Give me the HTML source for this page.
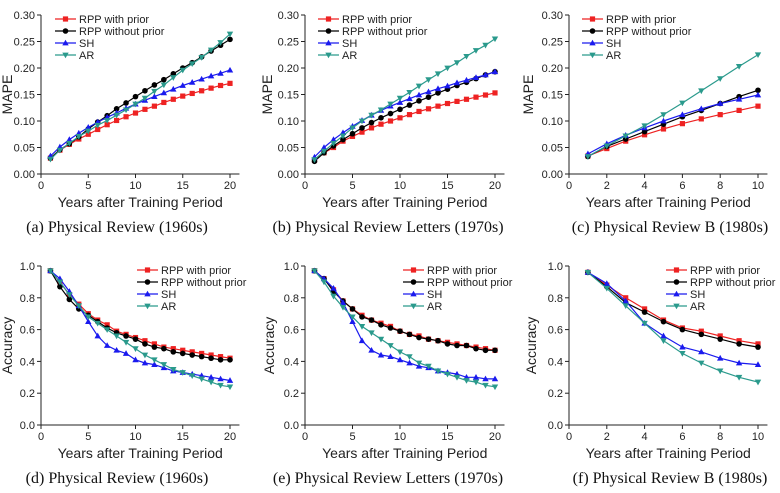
<!DOCTYPE html>
<html><head><meta charset="utf-8">
<style>
html,body{margin:0;padding:0;background:#fff;}
svg{display:block;font-family:"Liberation Sans",Arial,sans-serif;}
.tick{font-size:11px;fill:#222;}
.atitle{font-size:14px;fill:#222;}
.leg{font-size:11px;fill:#222;}
.cap{font-family:"Liberation Serif",serif;font-size:16px;fill:#111;}
</style></head>
<body>
<svg id="chart" width="780" height="493" viewBox="0 0 780 493"></svg>
<script>
const years20 = [1,2,3,4,5,6,7,8,9,10,11,12,13,14,15,16,17,18,19,20];
const years10 = [1,2,3,4,5,6,7,8,9,10];
const seriesNames = ["RPP with prior","RPP without prior","SH","AR"];
const xTicks20 = [0,5,10,15,20];
const xTicks10 = [0,2,4,6,8,10];
const mapeTicks = [0,0.05,0.10,0.15,0.20,0.25,0.30];
const accTicks = [0,0.2,0.4,0.6,0.8,1.0];

const aRed = [0.03,0.045,0.056,0.066,0.075,0.084,0.093,0.101,0.108,0.115,0.122,0.128,0.135,0.141,0.147,0.152,0.157,0.162,0.167,0.171];
const aBlack = [0.03,0.046,0.057,0.07,0.085,0.098,0.11,0.123,0.134,0.146,0.157,0.168,0.178,0.189,0.2,0.21,0.221,0.232,0.243,0.254];
const aSH = [0.034,0.051,0.065,0.077,0.088,0.098,0.107,0.115,0.124,0.132,0.139,0.146,0.153,0.16,0.167,0.173,0.179,0.185,0.19,0.196];
const aAR = [0.028,0.045,0.058,0.071,0.081,0.092,0.101,0.111,0.121,0.132,0.143,0.156,0.168,0.182,0.196,0.208,0.22,0.234,0.248,0.264];

const bRed = [0.026,0.04,0.05,0.062,0.071,0.079,0.087,0.094,0.1,0.106,0.112,0.118,0.123,0.128,0.133,0.137,0.141,0.145,0.149,0.153];
const bBlack = [0.024,0.04,0.053,0.065,0.076,0.087,0.097,0.106,0.114,0.122,0.13,0.138,0.145,0.153,0.16,0.167,0.173,0.18,0.187,0.193];
const bSH = [0.032,0.05,0.065,0.078,0.09,0.101,0.111,0.12,0.128,0.135,0.142,0.149,0.155,0.161,0.166,0.172,0.177,0.182,0.187,0.193];
const bAR = [0.027,0.043,0.058,0.072,0.087,0.1,0.111,0.121,0.132,0.143,0.154,0.166,0.178,0.189,0.2,0.21,0.222,0.233,0.243,0.255];

const cRed = [0.034,0.048,0.062,0.074,0.085,0.095,0.104,0.112,0.12,0.128];
const cBlack = [0.033,0.052,0.066,0.08,0.094,0.108,0.12,0.133,0.146,0.158];
const cSH = [0.038,0.057,0.073,0.087,0.1,0.112,0.123,0.133,0.141,0.149];
const cAR = [0.033,0.053,0.072,0.091,0.112,0.134,0.157,0.18,0.203,0.225];

const dRed = [0.97,0.9,0.82,0.76,0.7,0.66,0.63,0.59,0.57,0.55,0.53,0.51,0.49,0.48,0.47,0.46,0.45,0.44,0.43,0.42];
const dBlack = [0.97,0.87,0.79,0.73,0.69,0.65,0.61,0.58,0.56,0.54,0.51,0.49,0.48,0.46,0.45,0.44,0.43,0.42,0.41,0.41];
const dSH = [0.97,0.92,0.84,0.75,0.65,0.56,0.5,0.47,0.45,0.41,0.39,0.38,0.36,0.34,0.33,0.32,0.31,0.3,0.29,0.28];
const dAR = [0.97,0.9,0.82,0.75,0.68,0.64,0.6,0.56,0.52,0.48,0.44,0.41,0.38,0.35,0.33,0.31,0.29,0.27,0.25,0.24];

const eRed = [0.97,0.92,0.85,0.78,0.73,0.69,0.66,0.64,0.62,0.59,0.57,0.56,0.54,0.53,0.52,0.51,0.5,0.49,0.48,0.47];
const eBlack = [0.97,0.92,0.84,0.78,0.73,0.68,0.66,0.63,0.61,0.59,0.57,0.55,0.54,0.53,0.51,0.5,0.5,0.48,0.47,0.47];
const eSH = [0.97,0.92,0.86,0.77,0.65,0.53,0.47,0.44,0.43,0.41,0.39,0.37,0.36,0.34,0.33,0.32,0.3,0.3,0.29,0.29];
const eAR = [0.97,0.9,0.81,0.74,0.68,0.62,0.58,0.54,0.5,0.46,0.43,0.39,0.37,0.34,0.32,0.3,0.28,0.27,0.25,0.24];

const fRed = [0.96,0.88,0.8,0.73,0.66,0.61,0.59,0.56,0.53,0.51];
const fBlack = [0.96,0.87,0.77,0.71,0.65,0.6,0.57,0.54,0.51,0.49];
const fSH = [0.96,0.89,0.78,0.64,0.56,0.49,0.46,0.42,0.39,0.38];
const fAR = [0.96,0.86,0.75,0.64,0.53,0.45,0.39,0.34,0.3,0.27];

const colors = ["#ee2222","#000000","#1a1aee","#2a9a8c"];
const shapes = ["square","circle","tri","tridown"];
const NS = "http://www.w3.org/2000/svg";
const svg = document.getElementById("chart");

function mk(tag, attrs, parent){
  const e = document.createElementNS(NS, tag);
  for (const k in attrs) e.setAttribute(k, attrs[k]);
  (parent||svg).appendChild(e);
  return e;
}
function marker(g, shape, x, y, c){
  let m;
  if (shape==="square") m = mk("rect",{x:x-2.6,y:y-2.6,width:5.2,height:5.2,fill:c},g);
  else if (shape==="circle") m = mk("circle",{cx:x,cy:y,r:2.8,fill:c},g);
  else if (shape==="tri") m = mk("polygon",{points:`${x},${y-3.3} ${x-3.2},${y+2.4} ${x+3.2},${y+2.4}`,fill:c},g);
  else m = mk("polygon",{points:`${x},${y+3.3} ${x-3.2},${y-2.4} ${x+3.2},${y-2.4}`,fill:c},g);
  return m;
}

function panel(p){
  const g = mk("g",{});
  
  
  const xs = v => p.left + (v - 0) / (p.xmax - 0) * (p.xend - p.left);
  const ys = v => p.bottom - (v - 0) / (p.ymax - 0) * (p.bottom - p.top);
  const axEnd = p.xend + (p.xend - p.left) * 0.05;
  const xa = mk("line",{x1:p.left,y1:p.bottom,x2:axEnd,y2:p.bottom,stroke:"#222","stroke-width":1},g);
  
  
  const ya = mk("line",{x1:p.left,y1:p.top,x2:p.left,y2:p.bottom,stroke:"#222","stroke-width":1},g);
  
  
  p.yticks.forEach(t=>{
    const y = ys(t);
    mk("line",{x1:p.left-4,y1:y,x2:p.left,y2:y,stroke:"#222"},g);
    const tx = mk("text",{x:p.left-6,y:y+4,"text-anchor":"end",class:"tick"},g);
    tx.textContent = p.ydec===2 ? t.toFixed(2) : t.toFixed(1);
    
    
  });
  p.xticks.forEach(t=>{
    const x = xs(t);
    mk("line",{x1:x,y1:p.bottom,x2:x,y2:p.bottom+4,stroke:"#222"},g);
    const tx = mk("text",{x:x,y:p.bottom+15,"text-anchor":"middle",class:"tick"},g);
    tx.textContent = t;
    
    
  });
  const xt = mk("text",{x:(p.left+axEnd)/2,y:p.bottom+33,"text-anchor":"middle",class:"atitle"},g);
  xt.textContent = "Years after Training Period";
  
  
  const yty = (p.top+p.bottom)/2;
  const yt = mk("text",{x:p.ytx,y:yty,"text-anchor":"middle",class:"atitle",transform:`rotate(-90 ${p.ytx} ${yty})`},g);
  yt.textContent = p.ytitle;
  
  
  p.series.forEach((vals,i)=>{
    const sg = mk("g",{},g);
    
    
    const pts = vals.map((v,j)=>xs(p.x[j]).toFixed(1)+","+ys(v).toFixed(1)).join(" ");
    mk("polyline",{points:pts,fill:"none",stroke:colors[i],"stroke-width":1.2},sg);
    vals.forEach((v,j)=>{
      const m = marker(sg, shapes[i], xs(p.x[j]), ys(v), colors[i]);
      
      
    });
  });
  const lg = mk("g",{},g);
  
  
  seriesNames.forEach((n,i)=>{
    const y = p.legY + i*12;
    const le = mk("g",{},lg);
    
    
    mk("line",{x1:p.legX,y1:y,x2:p.legX+21,y2:y,stroke:colors[i],"stroke-width":1.2},le);
    marker(le, shapes[i], p.legX+10.5, y, colors[i]);
    const t = mk("text",{x:p.legX+24,y:y+4,class:"leg"},le);
    t.textContent = n;
  });
  const cap = mk("text",{x:p.capX,y:p.capY,"text-anchor":"middle",class:"cap"},g);
  cap.textContent = p.caption;
  
  
}

const topRow = {top:15,bottom:174,ymax:0.30,yticks:mapeTicks,ydec:2,ytitle:"MAPE",capY:232};
const botRow = {top:266,bottom:425,ymax:1.0,yticks:accTicks,ydec:1,ytitle:"Accuracy",capY:483};

panel(Object.assign({},topRow,{name:"panel-a",left:41,xend:230,xmax:20,xticks:xTicks20,x:years20,ytx:12,legX:55,legY:19,capX:117,caption:"(a)  Physical Review (1960s)",series:[aRed,aBlack,aSH,aAR]}));
panel(Object.assign({},topRow,{name:"panel-b",left:305,xend:495,xmax:20,xticks:xTicks20,x:years20,ytx:272,legX:318,legY:19,capX:388,caption:"(b)  Physical Review Letters (1970s)",series:[bRed,bBlack,bSH,bAR]}));
panel(Object.assign({},topRow,{name:"panel-c",left:569,xend:758,xmax:10,xticks:xTicks10,x:years10,ytx:533,legX:582,legY:19,capX:670,caption:"(c)  Physical Review B (1980s)",series:[cRed,cBlack,cSH,cAR]}));
panel(Object.assign({},botRow,{name:"panel-d",left:41,xend:230,xmax:20,xticks:xTicks20,x:years20,ytx:12,legX:137,legY:270,capX:117,caption:"(d)  Physical Review (1960s)",series:[dRed,dBlack,dSH,dAR]}));
panel(Object.assign({},botRow,{name:"panel-e",left:305,xend:495,xmax:20,xticks:xTicks20,x:years20,ytx:274,legX:403,legY:270,capX:388,caption:"(e)  Physical Review Letters (1970s)",series:[eRed,eBlack,eSH,eAR]}));
panel(Object.assign({},botRow,{name:"panel-f",left:569,xend:758,xmax:10,xticks:xTicks10,x:years10,ytx:536,legX:666,legY:270,capX:670,caption:"(f)  Physical Review B (1980s)",series:[fRed,fBlack,fSH,fAR]}));
</script>
</body></html>
